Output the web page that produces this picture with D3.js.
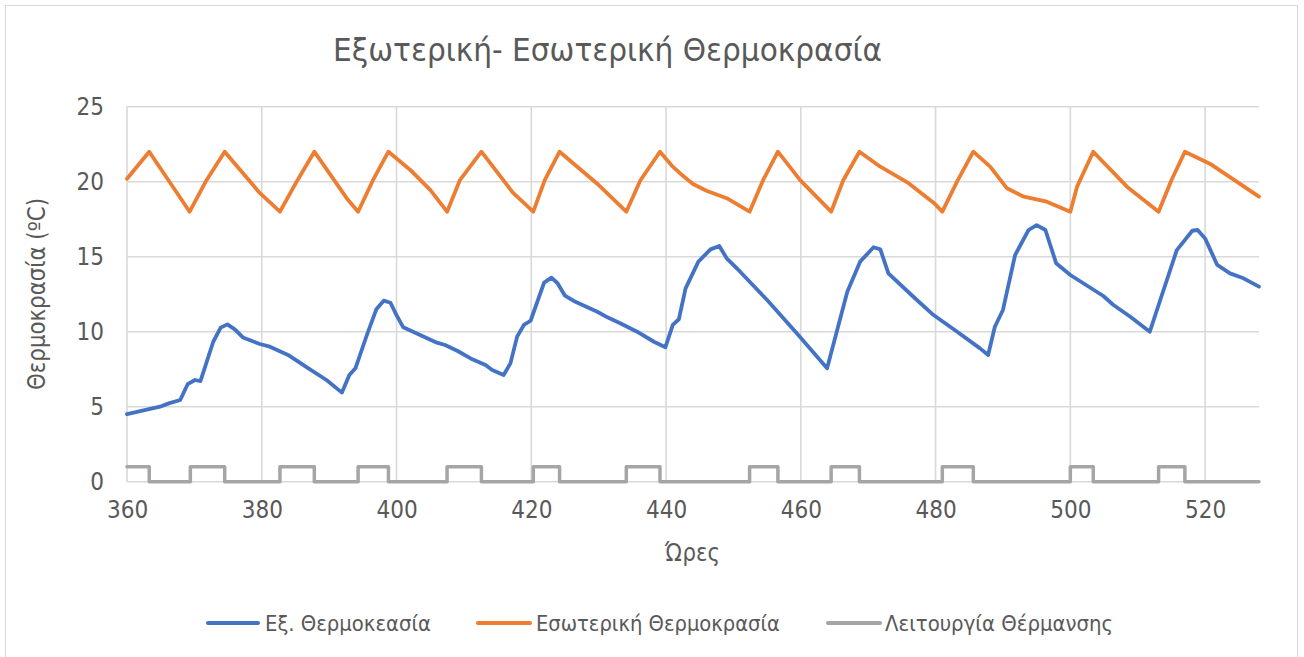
<!DOCTYPE html>
<html>
<head>
<meta charset="utf-8">
<script src="https://cdn.jsdelivr.net/npm/d3@7"></script>
<style>
  html, body { margin: 0; padding: 0; background: #ffffff; }
  svg { display: block; }
  text { font-family: "Liberation Sans Narrow", "DejaVu Sans Condensed", "Liberation Sans", sans-serif; fill: #595959; }
</style>
</head>
<body>
<svg id="chart" width="1304" height="657"></svg>
<script>
// Outdoor temperature (°C) by hour
const outHours = [360, 364.9, 366.2, 367.9, 369.0, 370.1, 370.9, 372.8, 373.9, 374.9, 376.0, 377.2, 379.7, 381.2, 383.9, 386.7, 389.6, 391.9, 393.0, 393.9, 395.6, 397.0, 398.1, 399.1, 400.0, 401.0, 406.0, 407.2, 409.0, 411.0, 413.2, 414.2, 415.9, 416.9, 417.9, 418.9, 419.9, 421.9, 423.0, 423.9, 425.0, 426.3, 429.8, 431.3, 433.2, 435.7, 438.2, 439.9, 441.0, 441.9, 442.9, 444.8, 446.6, 447.9, 449.0, 451.0, 455.0, 459.4, 463.9, 466.9, 468.8, 470.8, 471.8, 473.0, 476.7, 479.7, 483.2, 486.6, 487.8, 488.8, 490.0, 491.8, 493.8, 495.0, 496.3, 497.9, 500.0, 504.9, 506.4, 508.9, 511.8, 513.1, 515.8, 518.1, 518.9, 520.0, 521.8, 523.7, 525.7, 528];
const outTemp = [4.5, 5.0, 5.22, 5.45, 6.5, 6.78, 6.71, 9.33, 10.27, 10.49, 10.16, 9.62, 9.18, 9.0, 8.45, 7.62, 6.78, 5.94, 7.11, 7.56, 9.78, 11.49, 12.07, 11.93, 11.11, 10.29, 9.27, 9.11, 8.73, 8.22, 7.78, 7.45, 7.11, 7.89, 9.67, 10.45, 10.73, 13.27, 13.6, 13.23, 12.4, 12.05, 11.33, 10.96, 10.56, 10.0, 9.33, 8.96, 10.45, 10.83, 12.89, 14.67, 15.49, 15.71, 14.89, 14.0, 12.11, 9.89, 7.56, 12.67, 14.67, 15.63, 15.49, 13.89, 12.33, 11.11, 10.0, 8.89, 8.45, 10.33, 11.45, 15.11, 16.78, 17.11, 16.78, 14.56, 13.78, 12.38, 11.78, 11.0, 10.0, 11.78, 15.44, 16.73, 16.78, 16.22, 14.45, 13.89, 13.56, 13.0];

// Indoor temperature (°C) by hour
const inHours = [360, 363.3, 369.3, 371.8, 374.5, 379.7, 382.7, 385.3, 387.8, 392.6, 394.3, 396.5, 398.8, 402.0, 405.0, 407.5, 409.4, 412.6, 417.3, 420.3, 422.0, 424.2, 429.7, 434.1, 436.2, 439.1, 441.0, 442.1, 444.0, 446.0, 449.0, 452.4, 454.4, 456.6, 459.9, 464.5, 466.3, 468.7, 471.8, 476.0, 479.7, 481.0, 483.3, 485.6, 488.1, 490.6, 493.1, 496.5, 500.0, 501.0, 503.4, 508.4, 513.1, 515.0, 517.0, 520.7, 528];
const inTemp = [20.2, 22, 18, 20.1, 22, 19.25, 18, 20.1, 22, 18.9, 18, 20.1, 22, 20.8, 19.45, 18, 20.1, 22, 19.25, 18, 20.1, 22, 19.9, 18, 20.1, 22, 21.0, 20.55, 19.85, 19.4, 18.9, 18, 20.1, 22, 20.1, 18, 20.1, 22, 21.0, 19.9, 18.6, 18, 20.1, 22, 21.0, 19.56, 19.0, 18.67, 18, 19.67, 22, 19.67, 18, 20.1, 22, 21.2, 19.0];

// Heating on/off switching hours and the state that starts at each
const heatHours = [360, 363.3, 369.4, 374.5, 382.7, 387.8, 394.3, 398.8, 407.5, 412.6, 420.3, 424.2, 434.1, 439.1, 452.4, 456.6, 464.5, 468.7, 481.0, 485.6, 500.0, 503.4, 513.1, 517.0, 528];
const heatState = [1, 0, 1, 0, 1, 0, 1, 0, 1, 0, 1, 0, 1, 0, 1, 0, 1, 0, 1, 0, 1, 0, 1, 0, 0];

const xTicks = [360, 380, 400, 420, 440, 460, 480, 500, 520];
const yTicks = [0, 5, 10, 15, 20, 25];

const seriesNames = ["Εξ. Θερμοκεασία", "Εσωτερική Θερμοκρασία", "Λειτουργία Θέρμανσης"];
const seriesColors = ["#4472C4", "#ED7D31", "#A5A5A5"];

const titleText = "Εξωτερική- Εσωτερική Θερμοκρασία";
const xTitle = "Ώρες";
const yTitle = "Θερμοκρασία (ºC)";

const svg = d3.select("#chart");

// chart frame
svg.append("rect")
  .attr("x", 5.5).attr("y", 5.5)
  .attr("width", 1292).attr("height", 660)
  .attr("fill", "#ffffff").attr("stroke", "#d9d9d9").attr("stroke-width", 1);

const x = d3.scaleLinear().domain([360, 528]).range([127, 1259]);
const y = d3.scaleLinear().domain([0, 25]).range([481.7, 106.7]);

// gridlines
const grid = svg.append("g").attr("stroke", "#d9d9d9").attr("stroke-width", 1.6);
grid.selectAll("line.h").data(yTicks).join("line")
  .attr("x1", x(360)).attr("x2", x(528))
  .attr("y1", d => y(d)).attr("y2", d => y(d));
grid.selectAll("line.v").data(xTicks).join("line")
  .attr("x1", d => x(d)).attr("x2", d => x(d))
  .attr("y1", y(0)).attr("y2", y(25));

// axes (labels only, no domain lines)
const yAxis = d3.axisLeft(y).tickValues(yTicks).tickSize(0).tickPadding(0).tickFormat(d3.format("d"));
svg.append("g").attr("transform", "translate(104,0)").call(yAxis)
  .call(g => g.select(".domain").remove())
  .selectAll("text").attr("font-size", 24).attr("fill", "#595959")
  .style("font-family", "\"Liberation Sans Narrow\", \"DejaVu Sans Condensed\", sans-serif");

const xAxis = d3.axisBottom(x).tickValues(xTicks).tickSize(0).tickPadding(0).tickFormat(d3.format("d"));
svg.append("g").attr("transform", "translate(0,501)").call(xAxis)
  .call(g => g.select(".domain").remove())
  .selectAll("text").attr("font-size", 24).attr("fill", "#595959")
  .style("font-family", "\"Liberation Sans Narrow\", \"DejaVu Sans Condensed\", sans-serif");

// series
const lineGen = d3.line().x(d => x(d[0])).y(d => y(d[1]));
const outData = d3.zip(outHours, outTemp);
const inData = d3.zip(inHours, inTemp);
const heatData = d3.zip(heatHours, heatState);

svg.append("path").datum(heatData)
  .attr("fill", "none").attr("stroke", seriesColors[2]).attr("stroke-width", 3.5)
  .attr("stroke-linejoin", "round").attr("stroke-linecap", "round")
  .attr("d", d3.line().curve(d3.curveStepAfter).x(d => x(d[0])).y(d => y(d[1])));

svg.append("path").datum(inData)
  .attr("fill", "none").attr("stroke", seriesColors[1]).attr("stroke-width", 3.8)
  .attr("stroke-linejoin", "round").attr("stroke-linecap", "round")
  .attr("d", lineGen);

svg.append("path").datum(outData)
  .attr("fill", "none").attr("stroke", seriesColors[0]).attr("stroke-width", 3.8)
  .attr("stroke-linejoin", "round").attr("stroke-linecap", "round")
  .attr("d", lineGen);

// title
svg.append("text")
  .attr("x", 333).attr("y", 61)
  .attr("font-size", 32)
  .attr("textLength", 549).attr("lengthAdjust", "spacingAndGlyphs")
  .text(titleText);

// axis titles
svg.append("text")
  .attr("x", 665).attr("y", 561)
  .attr("font-size", 25)
  .attr("textLength", 55).attr("lengthAdjust", "spacingAndGlyphs")
  .text(xTitle);

svg.append("text")
  .attr("transform", "translate(45,390) rotate(-90)")
  .attr("x", 0).attr("y", 0)
  .attr("font-size", 24)
  .attr("textLength", 192).attr("lengthAdjust", "spacingAndGlyphs")
  .text(yTitle);

// legend
const legendItems = [
  { name: seriesNames[0], color: seriesColors[0], x1: 208, x2: 258, tx: 265, tw: 166 },
  { name: seriesNames[1], color: seriesColors[1], x1: 478, x2: 530, tx: 536, tw: 244 },
  { name: seriesNames[2], color: seriesColors[2], x1: 828, x2: 880, tx: 885, tw: 228 }
];
const legend = svg.append("g");
legend.selectAll("line").data(legendItems).join("line")
  .attr("x1", d => d.x1).attr("x2", d => d.x2)
  .attr("y1", 623).attr("y2", 623)
  .attr("stroke", d => d.color).attr("stroke-width", 4).attr("stroke-linecap", "round");
legend.selectAll("text").data(legendItems).join("text")
  .attr("x", d => d.tx).attr("y", 631)
  .attr("font-size", 22)
  .attr("textLength", d => d.tw).attr("lengthAdjust", "spacingAndGlyphs")
  .text(d => d.name);
</script>
</body>
</html>
